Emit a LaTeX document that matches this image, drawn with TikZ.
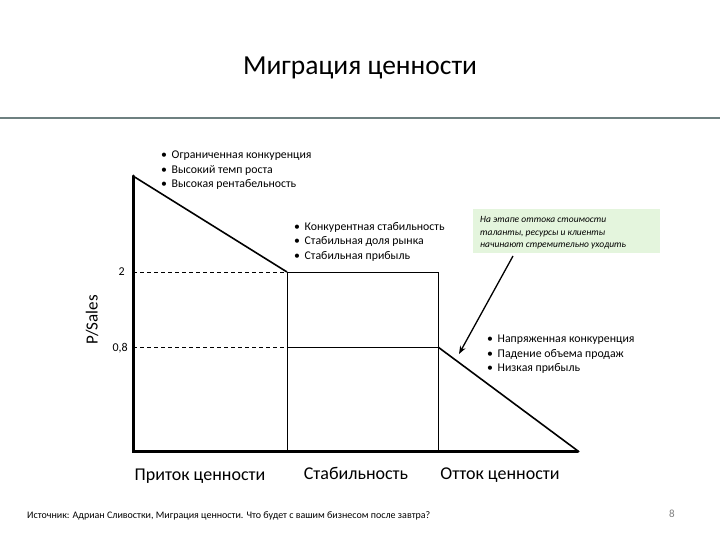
\documentclass[tikz,border=0pt]{standalone}
\usepackage{fontspec}
\setmainfont{Carlito}
\usetikzlibrary{arrows.meta}
\definecolor{rulecol}{HTML}{6E8080}
\definecolor{boxgreen}{HTML}{E4F5DD}
\tikzset{
  axisline/.style={line width=3pt,line cap=round},
  curveline/.style={line width=1.6pt},
  thinline/.style={line width=0.9pt},
  dashline/.style={line width=0.9pt,dash pattern=on 4pt off 3pt},
  bullets/.style={anchor=north west,align=left,inner sep=0pt,font=\fontsize{11.8}{14.5}\selectfont},
  catlabel/.style={font=\fontsize{18}{21}\selectfont,anchor=base},
  ticklabel/.style={font=\fontsize{12}{14}\selectfont,anchor=east,inner sep=1pt}
}
\begin{document}
\begin{tikzpicture}[x=1pt,y=-1pt]
\useasboundingbox (0,0) rectangle (720,540);
\fill[white] (0,0) rectangle (720,540);
% title
\node[font=\fontsize{27.5}{32}\selectfont] (title) at (360,68) {Миграция ценности};
\draw[rulecol,line width=2pt] (0,118.5) -- (720,118.5);
% chart
\coordinate (o) at (133,451);
\coordinate (top) at (133,176);
\coordinate (a) at (287,272);
\coordinate (b) at (438,272);
\coordinate (c) at (438,347);
\coordinate (d) at (578,451);
\coordinate (y2) at (133,272);
\coordinate (y08) at (133,347);
\draw[axisline] (top) -- (o) -- (d);
\draw[curveline] (top) -- (a);
\draw[curveline] (c) -- (d);
\draw[thinline] (a) -- (b) -- (438,451);
\draw[thinline] (a) -- (287,451);
\draw[thinline] (287,347) -- (c);
\draw[dashline] (y2) -- (a);
\draw[dashline] (y08) -- (287,347);
\node[ticklabel] (t2) at (126,272) {2};
\node[ticklabel] (t08) at (129,348) {0,8};
\node[font=\fontsize{17}{20}\selectfont,rotate=90] (ylab) at (92,320) {P/Sales};
% categories
\node[catlabel] (c1) at (200,480) {Приток ценности};
\node[catlabel] (c2) at (356,479) {Стабильность};
\node[catlabel] (c3) at (500,479) {Отток ценности};
% bullet lists
\node[bullets] (l1) at (161,151) {•\, Ограниченная конкуренция\\•\, Высокий темп роста\\•\, Высокая рентабельность};
\node[bullets] (l2) at (294,222) {•\, Конкурентная стабильность\\•\, Стабильная доля рынка\\•\, Стабильная прибыль};
\node[bullets] (l3) at (487,335) {•\, Напряженная конкуренция\\•\, Падение объема продаж\\•\, Низкая прибыль};
% green note
\node[fill=boxgreen,anchor=north west,minimum width=187pt,minimum height=44pt,inner sep=0pt] (note) at (473,209) {};
\node[anchor=north west,align=left,inner sep=0pt,font=\fontsize{9.5}{12.5}\itshape\selectfont] (notetext) at (480,216.5) {На этапе оттока стоимости\\таланты, ресурсы и клиенты\\начинают стремительно уходить};
\coordinate (arrs) at (513,256);
\coordinate (arre) at (459,354);
\draw[line width=1.3pt,-{Stealth[length=8pt,width=6pt]}] (arrs) -- (arre);
% footer
\node[anchor=west,inner sep=0pt,font=\fontsize{10}{12}\selectfont] (src) at (27,516) {Источник: Адриан Сливостки, Миграция ценности. Что будет с вашим бизнесом после завтра?};
\node[text=gray,font=\fontsize{11}{13}\selectfont] (pg) at (672,514) {8};
\end{tikzpicture}
\end{document}
